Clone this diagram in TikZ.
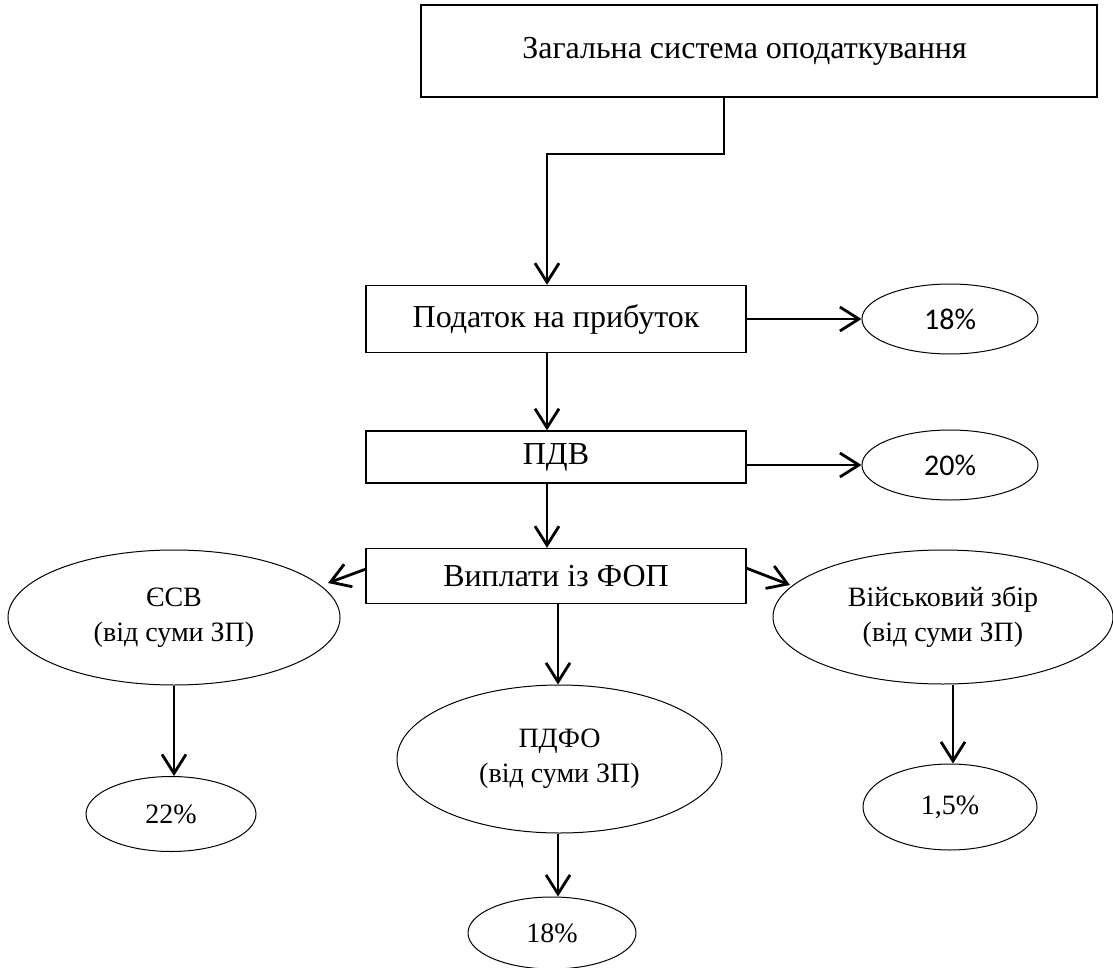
\documentclass[tikz,border=0pt]{standalone}
\usepackage{fontspec}
\setmainfont{Liberation Serif}
\newfontfamily\carlito{Carlito}
\usetikzlibrary{arrows.meta,shapes.geometric}
\begin{document}
\begin{tikzpicture}[x=1pt,y=-1pt,
  boxnode/.style={draw, line width=1.4pt, rectangle, minimum width=380pt, inner sep=0pt, font=\fontsize{32}{38}\selectfont},
  ell/.style={draw, line width=1pt, ellipse, inner sep=0pt, align=center, font=\fontsize{28}{35}\selectfont},
  pct/.style={font=\carlito\fontsize{30}{36}\selectfont},
  arr/.style={line width=2.8pt, -{Straight Barb[length=19pt,width=24pt,line width=2.8pt]}}
]
\useasboundingbox (0,0) rectangle (1113,968);
% boxes
\node[boxnode, minimum width=676pt, minimum height=92pt] (top) at (759,51) {Загальна система оподаткування\hspace*{29pt}};
\node[boxnode, minimum height=67pt] (pp) at (556,319) {Податок на прибуток};
\node[boxnode, minimum height=52pt] (pdv) at (556,457) {ПДВ};
\node[boxnode, minimum height=55pt] (fop) at (556,576) {Виплати із ФОП};
% ellipses
\node[ell, pct, minimum width=176pt, minimum height=70pt] (e18a) at (950,319) {18\%};
\node[ell, pct, minimum width=176pt, minimum height=70pt] (e20) at (950,465) {20\%};
\node[ell, minimum width=332pt, minimum height=135pt] (esv) at (174,617.5) {ЄСВ\\(від суми ЗП)};
\node[ell, minimum width=340pt, minimum height=134pt] (vz) at (943,617) {Військовий збір\\(від суми ЗП)};
\node[ell, minimum width=325pt, minimum height=148pt] (pdfo) at (559.5,759) {ПДФО\\(від суми ЗП)};
\node[ell, minimum width=170pt, minimum height=75pt] (e22) at (171,814) {22\%};
\node[ell, minimum width=174pt, minimum height=86pt] (e15) at (950,807) {1,5\%};
\node[ell, minimum width=168pt, minimum height=72pt] (e18b) at (552,933) {18\%};
% connectors
\coordinate (bend1) at (724,154);
\coordinate (bend2) at (547,154);
\draw[arr] (top.south -| bend1) -- (bend1) -- (bend2) -- (pp.north -| bend2);
\draw[arr] (pp.south -| bend2) -- (pdv.north -| bend2);
\draw[arr] (pdv.south -| bend2) -- (fop.north -| bend2);
\draw[arr] (pp.east) -- (e18a.west);
\draw[arr] (pdv.east |- e20) -- (e20.west);
\coordinate (fl) at (366,569);
\coordinate (fr) at (746,568);
\coordinate (esvend) at (328,583);
\coordinate (vzend) at (790,585);
\draw[arr] (fl) -- (esvend);
\draw[arr] (fr) -- (vzend);
\coordinate (pdfox) at (558,0);
\draw[arr] (fop.south -| pdfox) -- (pdfo.north -| pdfox);
\coordinate (esvx) at (174,0);
\draw[arr] (esv.south -| esvx) -- (e22.north -| esvx);
\coordinate (vzx) at (953,0);
\draw[arr] (vz.south -| vzx) -- (e15.north -| vzx);
\draw[arr] (pdfo.south -| pdfox) -- (e18b.north -| pdfox);
\end{tikzpicture}
\end{document}
